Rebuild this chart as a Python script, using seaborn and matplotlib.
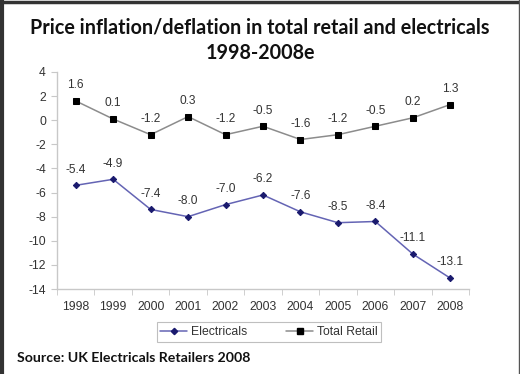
import matplotlib
matplotlib.use("Agg")
import matplotlib.pyplot as plt
import seaborn as sns
import pandas as pd
import numpy as np
from matplotlib.lines import Line2D

years = ["1998", "1999", "2000", "2001", "2002", "2003", "2004", "2005", "2006", "2007", "2008"]
electricals = [-5.4, -4.9, -7.4, -8.0, -7.0, -6.2, -7.6, -8.5, -8.4, -11.1, -13.1]
total_retail = [1.6, 0.1, -1.2, 0.3, -1.2, -0.5, -1.6, -1.2, -0.5, 0.2, 1.3]
series_names = ["Electricals", "Total Retail"]
title = "Price inflation/deflation in total retail and electricals\n1998-2008e"
source = "Source: UK Electricals Retailers 2008"

sns.set_style("white")
plt.rcParams['font.family'] = ['Liberation Sans', 'DejaVu Sans']

df = pd.DataFrame({
    "year": years * 2,
    "x": list(range(len(years))) * 2,
    "value": electricals + total_retail,
    "series": [series_names[0]] * len(years) + [series_names[1]] * len(years),
})

fig = plt.figure(figsize=(5.2, 3.74), dpi=100)
ax = fig.add_axes([57/520, 1 - 289/374, 412/520, 217/374])

line_col = {"Electricals": "#6464b4", "Total Retail": "#8c8c8c"}
mk_col = {"Electricals": "#1a1a6e", "Total Retail": "#000000"}
markers = {"Electricals": "D", "Total Retail": "s"}
msize = {"Electricals": 3.2, "Total Retail": 4.2}

for name in series_names:
    sub = df[df.series == name]
    sns.lineplot(data=sub, x="x", y="value", ax=ax, color=line_col[name], lw=1.1,
                 marker=markers[name], markersize=msize[name], markerfacecolor=mk_col[name],
                 markeredgecolor=mk_col[name], legend=False)
    for xi, v in zip(sub.x, sub.value):
        ax.annotate(f"{v:.1f}", (xi, v), xytext=(0, 7), textcoords="offset points",
                    ha="center", va="bottom", fontsize=8.6, color="#333333")

ax.set_xlim(-0.5, len(years) - 0.5)
ax.set_ylim(-14, 4)
ax.set_yticks(range(-14, 5, 2))
ax.set_yticklabels([str(v) for v in range(-14, 5, 2)])
ax.set_xticks(range(len(years)))
ax.set_xticklabels(years)
ax.set_xticks(np.arange(-0.5, len(years), 1), minor=True)
ax.tick_params(axis="x", which="major", length=0, pad=9, labelsize=8.7, labelcolor="#333333")
ax.tick_params(axis="x", which="minor", length=4, color="#c8c8c8", direction="out", bottom=True)
ax.tick_params(axis="y", length=4, color="#c8c8c8", direction="out", left=True, labelsize=8.7,
               labelcolor="#333333", pad=4)
ax.set_xlabel("")
ax.set_ylabel("")
for s in ["top", "right"]:
    ax.spines[s].set_visible(False)
for s in ["left", "bottom"]:
    ax.spines[s].set_color("#c8c8c8")
    ax.spines[s].set_linewidth(1.0)

handles = [Line2D([], [], color=line_col[n], lw=1.1, marker=markers[n], markersize=msize[n],
                  markerfacecolor=mk_col[n], markeredgecolor=mk_col[n]) for n in series_names]
leg = fig.legend(handles, series_names, loc="center", bbox_to_anchor=(269/520, 1 - 332/374),
                 ncol=2, fontsize=8.8, frameon=True, fancybox=False, handlelength=2.2,
                 columnspacing=3.2, handletextpad=0.3, borderpad=0.3)
leg.get_frame().set_edgecolor("#b0b0b0")
leg.get_frame().set_linewidth(0.8)
for t in leg.get_texts():
    t.set_color("#333333")

fig.text(0.5, 1 - 40.5/374, title, ha="center", va="center", fontsize=14.2, fontweight="bold",
         family=["Lato", "DejaVu Sans"], color="#111111", linespacing=1.32)
fig.text(17/520, 1 - 358/374, source, ha="left", va="center", fontsize=10.2, fontweight="bold",
         family=["Lato", "DejaVu Sans"], color="#111111")

# frame: thick top & left, thin right
fig.add_artist(Line2D([0, 1], [1 - 1.5/374, 1 - 1.5/374], transform=fig.transFigure, color="#333333", lw=2.5))
fig.add_artist(Line2D([2/520, 2/520], [0, 1], transform=fig.transFigure, color="#333333", lw=3))
fig.add_artist(Line2D([518.5/520, 518.5/520], [0, 1], transform=fig.transFigure, color="#555555", lw=1))

fig.savefig("out.png", dpi=100)
